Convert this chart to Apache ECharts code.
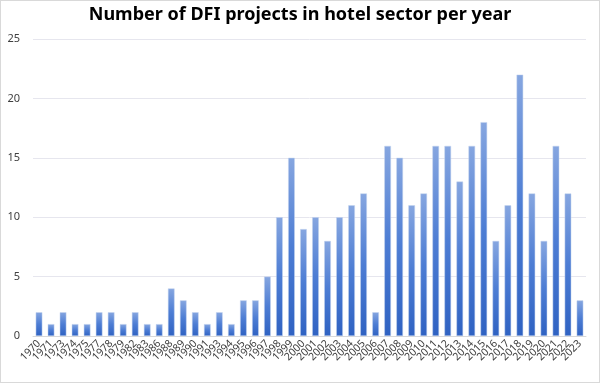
<!DOCTYPE html>
<html><head><meta charset="utf-8">
<script src="https://cdn.jsdelivr.net/npm/echarts@6/dist/echarts.min.js"></script>
<style>html,body{margin:0;padding:0;background:#fff}#c{width:598px;height:381px;border:1px solid #d9d9d9}</style>
</head><body><div id="c"></div>
<script>
const years = ['1970','1971','1973','1974','1975','1977','1978','1979','1982','1983','1986','1988','1989','1990','1991','1993','1994','1995','1996','1997','1998','1999','2000','2001','2002','2003','2004','2005','2006','2007','2008','2009','2010','2011','2012','2013','2014','2015','2016','2017','2018','2019','2020','2021','2022','2023'];
const projects = [2,1,2,1,1,2,2,1,2,1,1,4,3,2,1,2,1,3,3,5,10,15,9,10,8,10,11,12,2,16,15,11,12,16,16,13,16,18,8,11,22,12,8,16,12,3];
const yTicks = [0,5,10,15,20,25];
const chart = echarts.init(document.getElementById('c'));
chart.setOption({
  animation:false,
  title:{text:'Number of DFI projects in hotel sector per year',left:'center',top:0,
    textStyle:{fontFamily:'Noto Sans',fontWeight:'bold',fontSize:18,color:'#000'}},
  grid:{left:32,right:13,top:38,bottom:46},
  xAxis:{type:'category',data:years,
    axisLine:{lineStyle:{color:'#d9d9d9'}},axisTick:{show:false},
    axisLabel:{rotate:45,interval:0,fontSize:10.5,color:'#404040',fontFamily:'Noto Sans',margin:6}},
  yAxis:{type:'value',min:yTicks[0],max:yTicks[yTicks.length-1],interval:5,
    axisLine:{show:false},axisTick:{show:false},
    splitLine:{lineStyle:{color:'#e6e6ee'}},
    axisLabel:{fontSize:11,color:'#404040',fontFamily:'Noto Sans',margin:13}},
  series:[{type:'bar',data:projects,barWidth:'55%',
    itemStyle:{color:new echarts.graphic.LinearGradient(0,0,0,1,[{offset:0,color:'#86a6e0'},{offset:0.5,color:'#4d7dd4'},{offset:1,color:'#2f62c2'}]),
      borderColor:'#c5d4ef',borderWidth:0.5}}]
});
</script></body></html>
